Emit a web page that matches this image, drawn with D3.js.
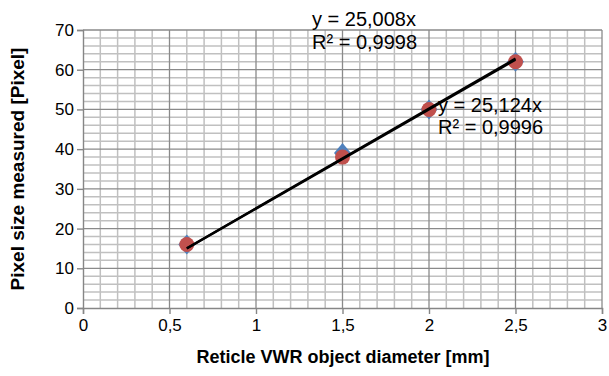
<!DOCTYPE html>
<html>
<head>
<meta charset="utf-8">
<script src="https://cdn.jsdelivr.net/npm/d3@7"></script>
<style>
  html, body { margin: 0; padding: 0; background: #fff; }
  svg { display: block; font-family: "Liberation Sans", Arial, sans-serif; }
</style>
</head>
<body>
<svg id="chart" width="609" height="376"></svg>
<script>
// Object diameters [mm]
const diameters = [0.6, 1.5, 2, 2.5];
// Measured sizes [px] for the two measurement series
const seriesA = [16, 39, 50, 62];   // blue diamonds
const seriesB = [16, 38, 50, 62];   // red circles
// Linear fits through the origin
const slopeA = 25.124, r2A = "0,9996";
const slopeB = 25.008, r2B = "0,9998";
const xTicks = [0, 0.5, 1, 1.5, 2, 2.5, 3];
const yTicks = [0, 10, 20, 30, 40, 50, 60, 70];

const svg = d3.select("#chart");
const L = 83, R = 602, T = 30, B = 308;

const x = d3.scaleLinear().domain([0, 3]).range([L, R]);
const y = d3.scaleLinear().domain([0, 70]).range([B, T]);

const fmt = d => String(d).replace(".", ",");

// Minor grid
const g = svg.append("g");
g.selectAll(".mx").data(d3.range(1, 30).filter(i => i % 5 !== 0).map(i => i / 10))
  .join("line").attr("x1", d => x(d)).attr("x2", d => x(d)).attr("y1", T).attr("y2", B)
  .attr("stroke", "#c0c0c0").attr("stroke-width", 1.5);
g.selectAll(".my").data(d3.range(1, 35).filter(i => i % 5 !== 0).map(i => i * 2))
  .join("line").attr("y1", d => y(d)).attr("y2", d => y(d)).attr("x1", L).attr("x2", R)
  .attr("stroke", "#c0c0c0").attr("stroke-width", 1.5);
// Major grid
g.selectAll(".Mx").data(xTicks.slice(1))
  .join("line").attr("x1", d => x(d)).attr("x2", d => x(d)).attr("y1", T).attr("y2", B)
  .attr("stroke", "#8a8a8a").attr("stroke-width", 1.3);
g.selectAll(".My").data(yTicks.slice(1))
  .join("line").attr("y1", d => y(d)).attr("y2", d => y(d)).attr("x1", L).attr("x2", R)
  .attr("stroke", "#8a8a8a").attr("stroke-width", 1.3);

// Axes
const xAxis = svg.append("g").attr("transform", `translate(0,${B})`)
  .call(d3.axisBottom(x).tickValues(xTicks).tickFormat(fmt).tickSize(6).tickPadding(5));
const yAxis = svg.append("g").attr("transform", `translate(${L},0)`)
  .call(d3.axisLeft(y).tickValues(yTicks).tickSize(6).tickPadding(3));
[xAxis, yAxis].forEach(a => {
  a.select(".domain").attr("stroke", "#868686").attr("stroke-width", 1.4);
  a.selectAll(".tick line").attr("stroke", "#868686").attr("stroke-width", 1.4);
  a.selectAll("text").attr("font-family", "Liberation Sans, Arial, sans-serif")
    .attr("font-size", 17).attr("fill", "#000");
});

const line = d3.line().x(d => x(d[0])).y(d => y(d[1]));
const ext = d3.extent(diameters);

// Markers
svg.append("g").selectAll("path").data(diameters.map((d, i) => [d, seriesA[i]]))
  .join("path")
  .attr("transform", d => `translate(${x(d[0])},${y(d[1])})`)
  .attr("d", "M0,-10L8.5,0L0,10L-8.5,0Z")
  .attr("fill", "#4f81bd");
svg.append("g").selectAll("circle").data(diameters.map((d, i) => [d, seriesB[i]]))
  .join("circle")
  .attr("cx", d => x(d[0])).attr("cy", d => y(d[1])).attr("r", 7.5)
  .attr("fill", "#c0504d");

// Trend lines (fits through the origin, over the data range)
[slopeA, slopeB].forEach(s => {
  svg.append("path").attr("d", line(ext.map(v => [v, s * v])))
    .attr("fill", "none").attr("stroke", "#000").attr("stroke-width", 2.3);
});

// Equation labels
const eq = svg.append("g").attr("font-size", 20).attr("fill", "#000");
eq.append("text").attr("x", 312).attr("y", 26).text(`y = ${fmt(slopeB)}x`);
eq.append("text").attr("x", 312).attr("y", 49).text(`R² = ${r2B}`);
eq.append("text").attr("x", 438).attr("y", 112).text(`y = ${fmt(slopeA)}x`);
eq.append("text").attr("x", 438).attr("y", 134).text(`R² = ${r2A}`);

// Axis titles
svg.append("text").attr("x", 343).attr("y", 363).attr("text-anchor", "middle")
  .attr("font-weight", "bold").attr("font-size", 18).text("Reticle VWR object diameter [mm]");
svg.append("text").attr("transform", `translate(24,${(T + B) / 2}) rotate(-90)`)
  .attr("text-anchor", "middle").attr("font-weight", "bold").attr("font-size", 19)
  .text("Pixel size measured [Pixel]");
</script>
</body>
</html>
